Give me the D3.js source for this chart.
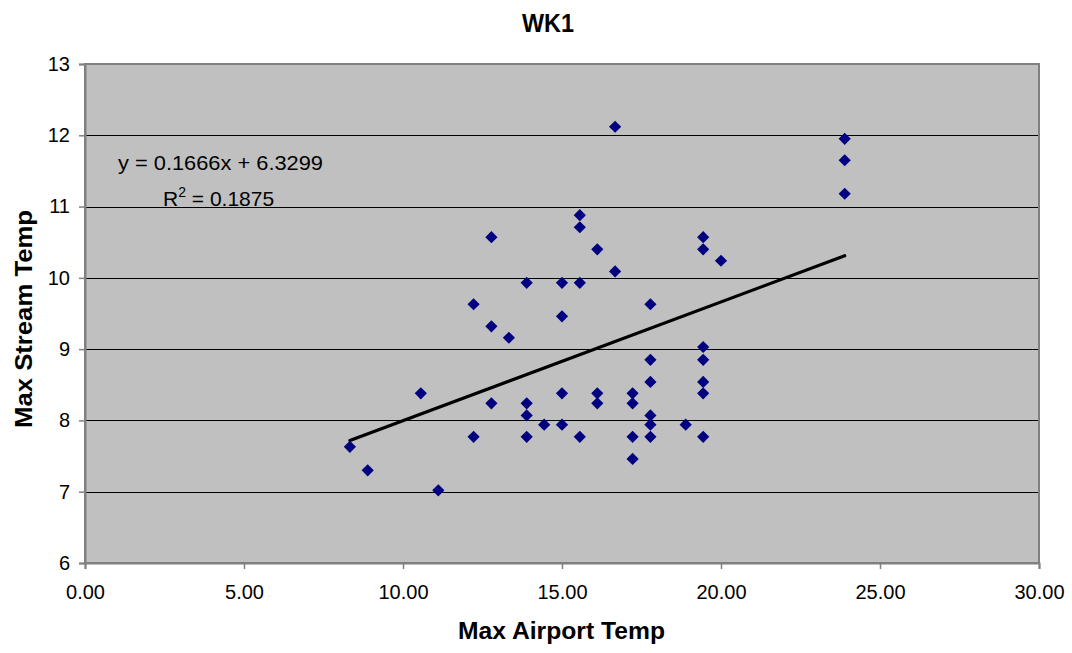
<!DOCTYPE html>
<html><head><meta charset="utf-8">
<script src="https://cdn.jsdelivr.net/npm/d3@7"></script>
<style>body{margin:0;background:#fff;}svg{display:block;font-family:"Liberation Sans",Arial,sans-serif;}</style>
</head><body>
<svg id="c" width="1072" height="653"></svg>
<script>
const title = "WK1";
const xTitle = "Max Airport Temp";
const yTitle = "Max Stream Temp";
const airTemp = [8.33,8.89,10.56,11.11,12.22,12.22,12.78,12.78,12.78,13.33,13.89,13.89,13.89,13.89,14.44,15.0,15.0,15.0,15.0,15.56,15.56,15.56,15.56,16.11,16.11,16.11,16.67,16.67,17.22,17.22,17.22,17.22,17.78,17.78,17.78,17.78,17.78,17.78,18.89,19.44,19.44,19.44,19.44,19.44,19.44,19.44,20.0,23.89,23.89,23.89];
const streamTemp = [7.63,7.30,8.38,7.02,7.77,9.63,8.24,9.32,10.57,9.16,7.77,8.07,8.24,9.93,7.94,7.94,8.38,9.46,9.93,7.77,9.93,10.71,10.88,8.24,8.38,10.40,10.09,12.12,7.46,7.77,8.24,8.38,7.77,7.94,8.07,8.54,8.85,9.63,7.94,7.77,8.38,8.54,8.85,9.03,10.40,10.57,10.24,11.18,11.65,11.95];
const xTicks = [0,5,10,15,20,25,30];
const yTicks = [6,7,8,9,10,11,12,13];
const slope = 0.1666, intercept = 6.3299, r2 = 0.1875;

const svg = d3.select("#c");
const L = 85, R = 1039, T = 64, B = 563;
const x = d3.scaleLinear().domain([0,30]).range([L,R]);
const y = d3.scaleLinear().domain([6,13]).range([B,T]);

svg.append("rect").attr("x",L).attr("y",T).attr("width",R-L).attr("height",B-T)
  .attr("fill","#c0c0c0");

// gridlines
svg.append("g").selectAll("line").data(yTicks.filter(d=>d>6 && d<13)).join("line")
  .attr("x1",L).attr("x2",R).attr("y1",d=>Math.round(y(d))+0.5).attr("y2",d=>Math.round(y(d))+0.5)
  .attr("stroke","#000").attr("stroke-width",1);

svg.append("rect").attr("x",L).attr("y",T).attr("width",R-L).attr("height",B-T)
  .attr("fill","none").attr("stroke","#808080").attr("stroke-width",2);

// axes
const fontFam = "Liberation Sans, Arial, sans-serif";
const yAxis = d3.axisLeft(y).tickValues(yTicks).tickFormat(d3.format("d")).tickSize(6).tickPadding(9);
const gy = svg.append("g").attr("transform",`translate(${L},0)`).call(yAxis);
gy.select(".domain").attr("stroke","#808080").attr("stroke-width",2);
gy.selectAll(".tick line").attr("stroke","#808080").attr("stroke-width",1.5);
gy.selectAll("text").attr("font-size",20).attr("fill","#000").attr("font-family",fontFam);

const xAxis = d3.axisBottom(x).tickValues(xTicks).tickFormat(d3.format(".2f")).tickSize(6).tickPadding(16);
const gx = svg.append("g").attr("transform",`translate(0,${B})`).call(xAxis);
gx.select(".domain").attr("stroke","#808080").attr("stroke-width",2);
gx.selectAll(".tick line").attr("stroke","#808080").attr("stroke-width",1.5);
gx.selectAll("text").attr("font-size",20).attr("fill","#000").attr("font-family",fontFam);

// trendline
const xmin = d3.min(airTemp), xmax = d3.max(airTemp);
svg.append("line").attr("x1",x(xmin)).attr("y1",y(slope*xmin+intercept))
  .attr("x2",x(xmax)).attr("y2",y(slope*xmax+intercept))
  .attr("stroke","#000").attr("stroke-width",3.2).attr("stroke-linecap","round");

// points
const pts = airTemp.map((a,i)=>[a,streamTemp[i]]);
const sym = d3.symbol().type(d3.symbolDiamond2).size(95);
svg.append("g").selectAll("path").data(pts).join("path")
  .attr("d", sym)
  .attr("transform",d=>`translate(${x(d[0])},${y(d[1])})`)
  .attr("fill","#000080");

// equation
svg.append("text").attr("x",118).attr("y",170).attr("font-size",21).attr("fill","#000")
  .attr("textLength",205).attr("lengthAdjust","spacingAndGlyphs")
  .text(`y = ${slope}x + ${intercept}`);
const rt = svg.append("text").attr("x",163).attr("y",206).attr("font-size",21).attr("fill","#000");
rt.append("tspan").text("R");
rt.append("tspan").attr("dy",-9).attr("font-size",14).text("2");
rt.append("tspan").attr("dy",9).text(` = ${r2}`);

// titles
svg.append("text").attr("x",548).attr("y",31.5).attr("text-anchor","middle")
  .attr("font-size",25).attr("font-weight","bold").attr("textLength",52).attr("lengthAdjust","spacingAndGlyphs").text(title);
svg.append("text").attr("x",561.5).attr("y",639).attr("text-anchor","middle")
  .attr("font-size",23).attr("font-weight","bold").attr("textLength",207).attr("lengthAdjust","spacingAndGlyphs").text(xTitle);
svg.append("text").attr("transform",`translate(32,319) rotate(-90)`).attr("text-anchor","middle")
  .attr("font-size",23).attr("font-weight","bold").attr("textLength",218).attr("lengthAdjust","spacingAndGlyphs").text(yTitle);
</script>
</body></html>
